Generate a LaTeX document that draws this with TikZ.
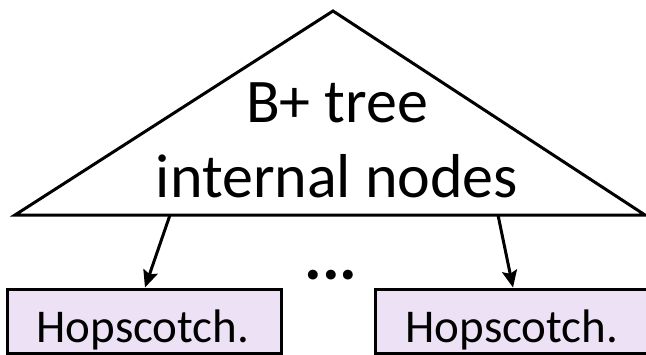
\documentclass[tikz,border=0pt]{standalone}
\usepackage{fontspec}
\setmainfont{Carlito}
\usetikzlibrary{arrows.meta, positioning}

\definecolor{hopfill}{RGB}{237,225,245}

\begin{document}
\begin{tikzpicture}[x=1pt, y=-1pt, line width=3pt,
	hopbox/.style={draw, fill=hopfill, minimum height=64pt, minimum width=274pt,
		font=\fontsize{47}{56}\selectfont},
	bigtext/.style={anchor=base, inner sep=0pt, font=\fontsize{62}{75}\selectfont},
	>={Stealth[length=17pt, width=15pt, inset=3pt]}]

	\useasboundingbox (0,0) rectangle (646,354);
	\clip (0,0) rectangle (646,354);

	% the tree top
	\coordinate (apex) at (333,11);
	\coordinate (bl) at (15,215);
	\coordinate (br) at (645,215);
	\draw[line join=miter] (apex) -- (bl) -- (br) -- cycle;
	\node[bigtext] (line1) at (337,122) {B+ tree};
	\node[bigtext] (line2) at (337,197) {internal nodes};

	% leaves
	\node[hopbox] (hop1) at (144.5,321) {};
	\node[hopbox] (hop2) at (512,321) {};
	\node[anchor=base, font=\fontsize{47}{56}\selectfont] (text1) at (143,342) {Hopscotch.};
	\node[anchor=base, font=\fontsize{47}{56}\selectfont] (text2) at (512,342) {Hopscotch.};
	\node[anchor=base, font=\bfseries\fontsize{66}{70}\selectfont] (dots) at (331,279) {...};

	\coordinate (la) at (170,215);
	\coordinate (ra) at (498,215);
	\draw[->] (la) -- ([xshift=0.5pt]hop1.north);
	\draw[->] (ra) -- ([xshift=1pt]hop2.north);

	\end{tikzpicture}
\end{document}
